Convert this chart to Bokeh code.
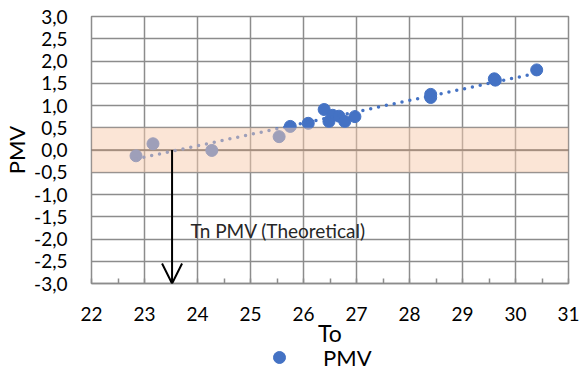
import numpy as np
from bokeh.plotting import figure
from bokeh.layouts import column
from bokeh.models import (BoxAnnotation, Span, Arrow, OpenHead, Label, Legend, LegendItem,
                          SingleIntervalTicker, CustomJSTickFormatter, Range1d, ColumnDataSource)
from bokeh.embed import file_html
from bokeh.resources import INLINE

# Operative temperature (To) and predicted mean vote (PMV) per measurement
to_values = [22.84, 23.16, 24.27, 25.54, 25.75, 26.09, 26.39, 26.48, 26.55,
             26.67, 26.78, 26.97, 28.40, 28.40, 29.60, 29.62, 30.40]
pmv_values = [-0.13, 0.14, -0.01, 0.30, 0.53, 0.60, 0.91, 0.64, 0.78,
              0.76, 0.64, 0.75, 1.25, 1.18, 1.60, 1.57, 1.80]

# Neutral temperature read where the trend reaches PMV = 0
tn_pmv = 23.52
comfort_band = (-0.5, 0.5)

FONT = "Lato"
GRID = "#8c8c8c"
BLUE = "#4472C4"

src = ColumnDataSource(dict(to=to_values, pmv=pmv_values))

# Linear least-squares trend of PMV on To
slope, intercept = np.polyfit(to_values, pmv_values, 1)
tx = [min(to_values), max(to_values)]
trend = ColumnDataSource(dict(x=tx, y=[slope * v + intercept for v in tx]))

p = figure(width=579, height=350, output_backend="svg", toolbar_location=None,
           x_range=Range1d(22, 31), y_range=Range1d(-3, 3),
           min_border_left=91, min_border_right=11, min_border_top=16, min_border_bottom=67)

p.background_fill_color = "white"
p.border_fill_color = "white"
p.outline_line_color = GRID
p.outline_line_width = 1.5

# Axes
p.xaxis.ticker = SingleIntervalTicker(interval=1, num_minor_ticks=2)
p.yaxis.ticker = SingleIntervalTicker(interval=0.5, num_minor_ticks=0)
p.yaxis.formatter = CustomJSTickFormatter(code="return tick.toFixed(1).replace('.', ',');")
p.xaxis.formatter = CustomJSTickFormatter(code="return tick.toFixed(0);")

for ax in (p.xaxis[0], p.yaxis[0]):
    ax.major_label_text_font = FONT
    ax.major_label_text_font_size = "19px"
    ax.major_label_text_color = "black"
    ax.axis_label_text_font = FONT
    ax.axis_label_text_font_style = "normal"
    ax.axis_label_text_color = "black"
    ax.major_tick_out = 0
    ax.major_tick_in = 0

p.xaxis.axis_line_color = GRID
p.xaxis.axis_line_width = 1.5
p.xaxis.minor_tick_in = 5
p.xaxis.minor_tick_out = 0
p.xaxis.minor_tick_line_color = GRID
p.xaxis.minor_tick_line_width = 1.5
p.xaxis.major_label_standoff = 23
p.xaxis.axis_label = "To"
p.xaxis.axis_label_text_font_size = "23px"
p.xaxis.axis_label_standoff = -5

p.yaxis.axis_line_color = None
p.yaxis.minor_tick_line_color = None
p.yaxis.major_label_standoff = 24
p.yaxis.axis_label = "PMV"
p.yaxis.axis_label_text_font_size = "22px"
p.yaxis.axis_label_standoff = 1

p.xgrid.grid_line_color = GRID
p.xgrid.grid_line_width = 1.5
p.ygrid.grid_line_color = GRID
p.ygrid.grid_line_width = 1.5

# Horizontal axis crossing at PMV = 0
p.add_layout(Span(location=0, dimension="width", line_color="#3f3f3f", line_width=1.5,
                  level="underlay"))

# Data points and dotted linear trend
marker_style = dict(size=12, color=BLUE)
pts = p.scatter("to", "pmv", source=src, **marker_style)
p.line("x", "y", source=trend, line_color=BLUE, line_width=3.5,
       line_dash="0 8", line_cap="round")

# Comfort band, drawn over grid and markers
p.add_layout(BoxAnnotation(bottom=comfort_band[0], top=comfort_band[1],
                           fill_color="#F8CBAD", fill_alpha=0.5, line_color=None))

# Arrow down from the neutral temperature
p.add_layout(Arrow(x_start=tn_pmv, y_start=0, x_end=tn_pmv, y_end=-3,
                   line_color="black", line_width=2,
                   end=OpenHead(size=20, line_color="black", line_width=2)))
p.add_layout(Label(x=23.87, y=-1.8, text="Tn PMV (Theoretical)", text_font=FONT,
                   text_font_size="19px", text_color="#262626", text_baseline="middle"))

# Legend strip under the chart; its key renderer shares the series data,
# which lies outside this strip's ranges, so only the legend entry shows
lg = figure(width=579, height=16, output_backend="svg", toolbar_location=None,
            x_range=Range1d(0, 1), y_range=Range1d(0, 1),
            min_border=0, outline_line_color=None)
lg.axis.visible = False
lg.grid.visible = False
key = lg.scatter("to", "pmv", source=src, **marker_style)
legend = Legend(items=[LegendItem(label="PMV", renderers=[key])],
                location=(173, -6), orientation="horizontal",
                label_text_font=FONT, label_text_font_size="22px", label_text_color="black",
                label_standoff=29, glyph_width=30, glyph_height=30, label_height=14,
                padding=0, margin=0, border_line_color=None, background_fill_alpha=0)
lg.add_layout(legend, "center")

layout = column(p, lg, spacing=0)
open("out.html", "w").write(file_html(layout, INLINE))
